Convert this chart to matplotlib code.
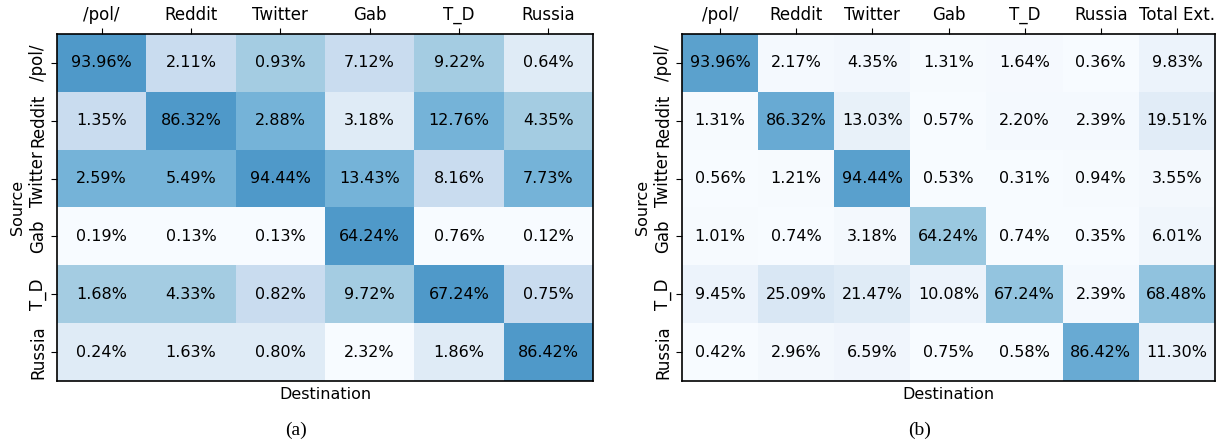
import matplotlib
matplotlib.use("Agg")
import matplotlib.pyplot as plt
import numpy as np
from matplotlib.colors import LinearSegmentedColormap

sources = ["/pol/", "Reddit", "Twitter", "Gab", "T_D", "Russia"]
dest_a = ["/pol/", "Reddit", "Twitter", "Gab", "T_D", "Russia"]
dest_b = ["/pol/", "Reddit", "Twitter", "Gab", "T_D", "Russia", "Total Ext."]

# (a) rows = source, cols = destination
vals_a = np.array([
    [93.96, 2.11, 0.93, 7.12, 9.22, 0.64],
    [1.35, 86.32, 2.88, 3.18, 12.76, 4.35],
    [2.59, 5.49, 94.44, 13.43, 8.16, 7.73],
    [0.19, 0.13, 0.13, 64.24, 0.76, 0.12],
    [1.68, 4.33, 0.82, 9.72, 67.24, 0.75],
    [0.24, 1.63, 0.80, 2.32, 1.86, 86.42],
])

# (b)
vals_b = np.array([
    [93.96, 2.17, 4.35, 1.31, 1.64, 0.36, 9.83],
    [1.31, 86.32, 13.03, 0.57, 2.20, 2.39, 19.51],
    [0.56, 1.21, 94.44, 0.53, 0.31, 0.94, 3.55],
    [1.01, 0.74, 3.18, 64.24, 0.74, 0.35, 6.01],
    [9.45, 25.09, 21.47, 10.08, 67.24, 2.39, 68.48],
    [0.42, 2.96, 6.59, 0.75, 0.58, 86.42, 11.30],
])

# lighter part of Blues only
blues = plt.get_cmap("Blues")
cmap = LinearSegmentedColormap.from_list("blues_lo", blues(np.linspace(0, 0.625, 256)))

# colours of (a) follow the rank of each cell inside its column
rank_a = vals_a.argsort(axis=0).argsort(axis=0)

fig = plt.figure(figsize=(12.25, 4.42), dpi=100)
ax_a = fig.add_axes([57 / 1225, 1 - 381 / 442, 536 / 1225, 347 / 442])
ax_b = fig.add_axes([682 / 1225, 1 - 381 / 442, 533 / 1225, 347 / 442])


def draw(ax, vals, colour, vmax, cols):
    ax.imshow(colour, cmap=cmap, vmin=0, vmax=vmax, aspect="auto", alpha=0.93)
    for i in range(vals.shape[0]):
        for j in range(vals.shape[1]):
            ax.text(j, i, f"{vals[i, j]:.2f}%", ha="center", va="center", fontsize=11.5)
    ax.xaxis.tick_top()
    ax.set_xticks(range(len(cols)))
    ax.set_xticklabels(cols, fontsize=12)
    ax.set_yticks(range(len(sources)))
    ax.set_yticklabels(sources, fontsize=12, rotation=90, va="center")
    ax.set_xlabel("Destination", fontsize=11.5)
    ax.set_ylabel("Source", fontsize=11.5, labelpad=3)
    ax.tick_params(axis="both", length=4, pad=3)
    for s in ax.spines.values():
        s.set_linewidth(1.2)


draw(ax_a, vals_a, rank_a, 5, dest_a)
draw(ax_b, vals_b, vals_b, 100, dest_b)

fig.text(296 / 1225, 1 - 430 / 442, "(a)", ha="center", va="center",
         fontsize=14, family="Liberation Serif")
fig.text(920 / 1225, 1 - 430 / 442, "(b)", ha="center", va="center",
         fontsize=14, family="Liberation Serif")

fig.savefig("out.png", dpi=100, facecolor="white")
